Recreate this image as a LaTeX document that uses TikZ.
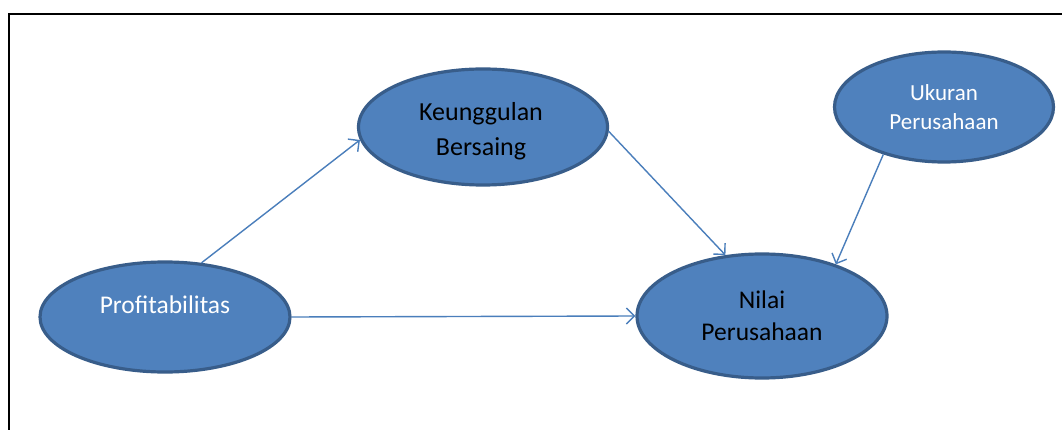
\documentclass[tikz,border=0pt]{standalone}
\usepackage{fontspec}
\setmainfont{Carlito}
\usetikzlibrary{shapes.geometric,arrows.meta}
\definecolor{ellfill}{HTML}{4F81BD}
\definecolor{elldraw}{HTML}{385D8A}
\definecolor{arrcol}{HTML}{4A7EBB}
\tikzset{
  ell/.style={ellipse, fill=ellfill, draw=elldraw, line width=3.2pt, inner sep=0pt, align=center},
  conn/.style={arrcol, line width=1.4pt, -{Straight Barb[length=8pt,width=16pt,line width=1.4pt]}},
  keungtxt/.style={font=\fontsize{26}{35}\selectfont},
  bigtxt/.style={font=\fontsize{25.5}{32}\selectfont},
  smalltxt/.style={font=\fontsize{23}{28.5}\selectfont}
}
\begin{document}
\begin{tikzpicture}[x=1pt,y=-1pt]
\useasboundingbox (0,0) rectangle (1062,430);
\fill[white] (0,0) rectangle (1062,430);
\coordinate (fa) at (9,432);
\coordinate (fb) at (9,14);
\coordinate (fc) at (1064,14);
\draw[line width=2.4pt] (fa) -- (fb) -- (fc);

\node[ell, minimum width=250pt, minimum height=110pt] (profit) at (165,317) {};
\node[bigtxt, text=white] (profittxt) at (165,305) {Profitabilitas};

\node[ell, minimum width=249pt, minimum height=116pt] (keung) at (483,127) {};
\node[keungtxt, text=black, align=center] (keungtxt) at (481,131) {Keunggulan\\Bersaing};

\node[ell, minimum width=219pt, minimum height=110pt, smalltxt, text=white] (ukuran) at (944,107) {Ukuran\\Perusahaan};

\node[ell, minimum width=250pt, minimum height=124pt, bigtxt, text=black] (nilai) at (762,316) {Nilai\\Perusahaan};

\draw[conn] (profit.56) -- (keung.186);
\draw[conn] (profit.east) -- (nilai.west);
\draw[conn] (keung.-2) -- (nilai.121);
\draw[conn] (ukuran.218) -- (nilai.35);
\end{tikzpicture}
\end{document}
